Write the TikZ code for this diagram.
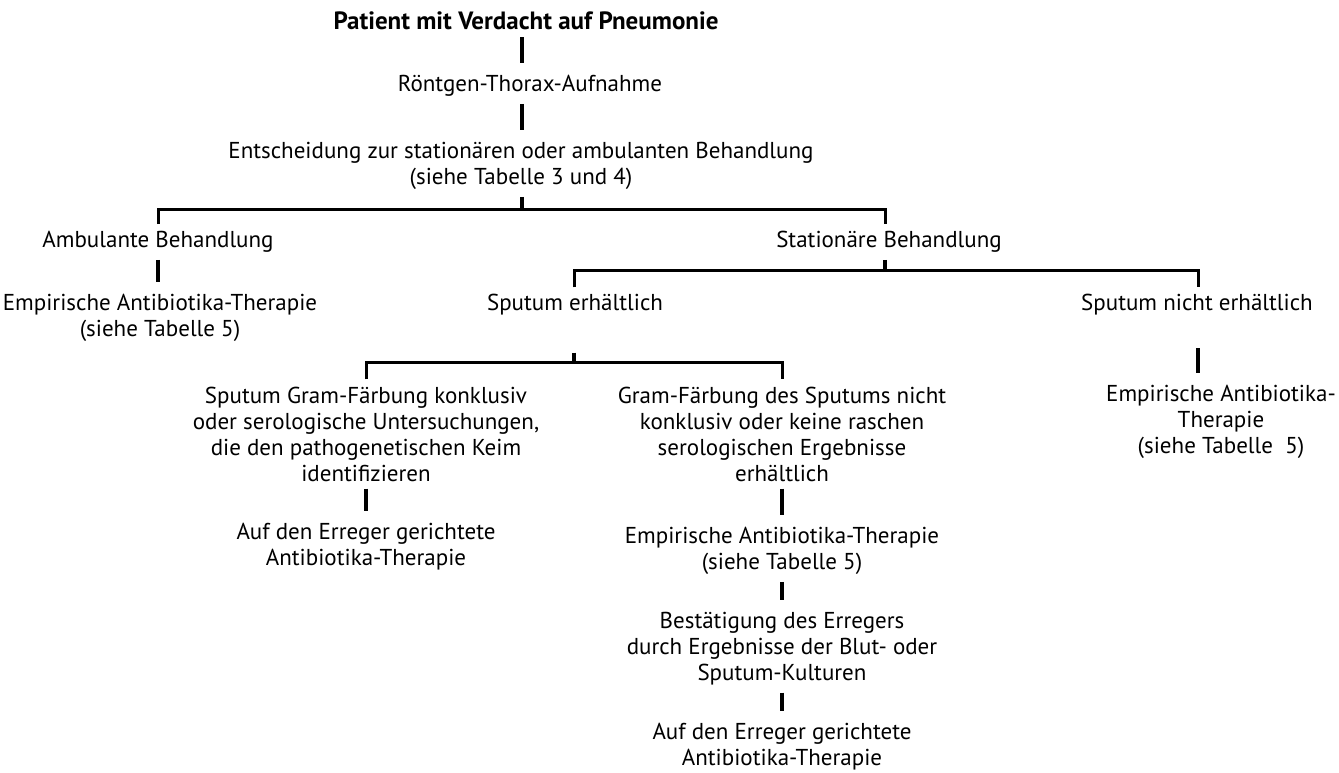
\documentclass[tikz,border=0pt]{standalone}
\usepackage{fontspec}
\setmainfont{PT Sans}
\begin{document}
\begin{tikzpicture}[x=1pt,y=-1pt,
  txt/.style={font=\fontsize{23}{26}\selectfont, align=center, inner xsep=2pt, inner ysep=7pt},
  bar/.style={line width=3.5pt, shorten >=5pt},
  bus/.style={line width=3pt}]
\useasboundingbox (0,0) rectangle (1339,773);
% nodes
\node[txt,font=\fontsize{25}{26}\selectfont\bfseries] (title) at (526,21) {Patient mit Verdacht auf Pneumonie};
\node[txt] (roent) at (530,86) {Röntgen-Thorax-Aufnahme};
\node[txt] (ents) at (521,166) {Entscheidung zur stationären oder ambulanten Behandlung\\(siehe Tabelle 3 und 4)};
\node[txt] (amb) at (158,242) {Ambulante Behandlung};
\node[txt] (stat) at (889,242) {Stationäre Behandlung};
\node[txt] (emp1) at (160,318) {Empirische Antibiotika-Therapie\\(siehe Tabelle 5)};
\node[txt] (sput) at (575,305) {Sputum erhältlich};
\node[txt] (nsput) at (1197,305) {Sputum nicht erhältlich};
\node[txt] (gram1) at (366,434) {Sputum Gram-Färbung konklusiv\\oder serologische Untersuchungen,\\die den pathogenetischen Keim\\identifizieren};
\node[txt] (gram2) at (782,434) {Gram-Färbung des Sputums nicht\\konklusiv oder keine raschen\\serologischen Ergebnisse\\erhältlich};
\node[txt] (emp3) at (1221,422) {Empirische Antibiotika-\\Therapie\\(siehe Tabelle~~5)};
\node[txt] (auf1) at (366,547) {Auf den Erreger gerichtete\\Antibiotika-Therapie};
\node[txt] (emp2) at (782,551) {Empirische Antibiotika-Therapie\\(siehe Tabelle 5)};
\node[txt] (best) at (782,649) {Bestätigung des Erregers\\durch Ergebnisse der Blut- oder\\Sputum-Kulturen};
\node[txt] (auf2) at (782,747) {Auf den Erreger gerichtete\\Antibiotika-Therapie};
% coordinates
\coordinate (cx) at (522,0);
\coordinate (b1L) at (158,209);
\coordinate (b1M) at (522,209);
\coordinate (b1R) at (885,209);
\coordinate (b2L) at (574,270);
\coordinate (b2M) at (885,270);
\coordinate (b2R) at (1198,270);
\coordinate (b3L) at (366,362);
\coordinate (b3M) at (574,362);
\coordinate (b3R) at (782,362);
\coordinate (nsbar) at (1198,348);
% connectors
\draw[bar] (title.south -| cx) -- (roent.north -| cx);
\draw[bar] (roent.south -| cx) -- (ents.north -| cx);
\draw[bar, shorten >=0pt] (ents.south -| cx) -- (b1M);
\draw[bus] (b1L |- amb.north) -- (b1L) -- (b1R) -- (b1R |- stat.north);
\draw[bar] (amb.south) -- (amb.south |- emp1.north);
\draw[bar, shorten >=0pt] (stat.south -| b2M) -- (b2M);
\draw[bus] (b2L |- sput.north) -- (b2L) -- (b2R) -- (b2R |- nsput.north);
\draw[bar, shorten >=0pt, shorten <=30pt] (sput.south -| b3M) -- (b3M);
\draw[bus] (b3L |- gram1.north) -- (b3L) -- (b3R) -- (b3R |- gram2.north);
\draw[bar] (nsbar) -- (nsbar |- emp3.north);
\draw[bar] (gram1.south) -- (auf1.north);
\draw[bar] (gram2.south) -- (emp2.north);
\draw[bar] (emp2.south) -- (best.north);
\draw[bar] (best.south) -- (auf2.north);
\end{tikzpicture}
\end{document}
